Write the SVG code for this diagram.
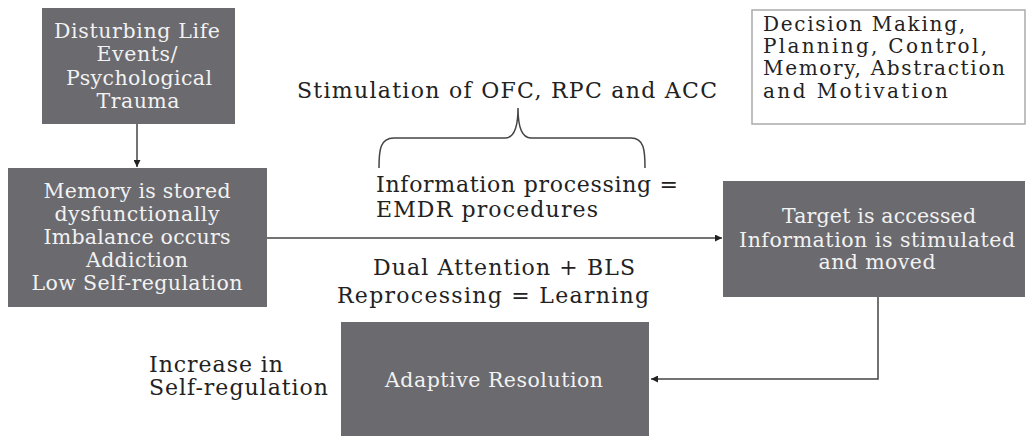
<svg xmlns="http://www.w3.org/2000/svg" width="1026" height="436" viewBox="0 0 1026 436">
  <defs>
    <marker id="arrow" viewBox="0 0 10 10" refX="10" refY="5" markerWidth="7" markerHeight="7" markerUnits="userSpaceOnUse" orient="auto">
      <path d="M0,0 L10,5 L0,10 z" fill="#222"/>
    </marker>
    <style>
      text { font-family: "DejaVu Serif", "Liberation Serif", serif; font-size: 22px; }
      .box { fill: #6b6a6f; }
      .inbox { fill: #f2f2f2; text-anchor: middle; font-size: 20.5px; }
      .label { fill: #222; }
      .note { font-size: 20px; }
      .mid { text-anchor: middle; }
      .conn { fill: none; stroke: #444; stroke-width: 1.5; }
      .outline { fill: #fff; stroke: #aaa; stroke-width: 1.5; }
    </style>
  </defs>

  <rect width="1026" height="436" fill="#fff"/>

  <!-- connectors -->
  <g id="connectors">
    <line class="conn" x1="137" y1="124" x2="137" y2="167" marker-end="url(#arrow)"/>
    <line class="conn" x1="267" y1="238" x2="722" y2="238" marker-end="url(#arrow)"/>
    <polyline class="conn" points="878,297 878,379 651,379" marker-end="url(#arrow)"/>
    <!-- curly brace under the stimulation label -->
    <path class="conn" d="M379,168 C379,150 380,138 394,138 L505,138 C514,138 518,128 518,108 C518,128 522,138 531,138 L631,138 C644,138 645,150 645,168"/>
  </g>

  <g id="trauma">
    <rect class="box" x="42" y="8" width="193" height="116"/>
    <text class="inbox" x="137" y="38" textLength="166">Disturbing Life</text>
    <text class="inbox" x="137" y="61" textLength="81">Events/</text>
    <text class="inbox" x="139" y="85" textLength="146">Psychological</text>
    <text class="inbox" x="138" y="108" textLength="83">Trauma</text>
  </g>

  <g id="memory">
    <rect class="box" x="8" y="168" width="259" height="139"/>
    <text class="inbox" x="137" y="198" textLength="187">Memory is stored</text>
    <text class="inbox" x="137" y="221" textLength="165">dysfunctionally</text>
    <text class="inbox" x="137" y="244" textLength="187">Imbalance occurs</text>
    <text class="inbox" x="137" y="267" textLength="102">Addiction</text>
    <text class="inbox" x="137" y="290" textLength="211">Low Self-regulation</text>
  </g>

  <g id="stimulation">
    <text class="label" x="297" y="98" textLength="420">Stimulation of OFC, RPC and ACC</text>
  </g>

  <g id="functions">
    <rect class="outline" x="752" y="10" width="273" height="114"/>
    <text class="label note" x="763" y="31" textLength="202">Decision Making,</text>
    <text class="label note" x="763" y="53" textLength="224">Planning, Control,</text>
    <text class="label note" x="763" y="75" textLength="242">Memory, Abstraction</text>
    <text class="label note" x="763" y="98" textLength="185">and Motivation</text>
  </g>

  <g id="processing">
    <text class="label" x="376" y="192" textLength="302">Information processing =</text>
    <text class="label" x="376" y="217" textLength="222">EMDR procedures</text>
  </g>

  <g id="target">
    <rect class="box" x="723" y="181" width="302" height="116"/>
    <text class="inbox" x="879" y="223" textLength="194">Target is accessed</text>
    <text class="inbox" x="877" y="247" textLength="276">Information is stimulated</text>
    <text class="inbox" x="877" y="269" textLength="117">and moved</text>
  </g>

  <g id="reprocessing">
    <text class="label mid" x="504" y="275" textLength="262">Dual Attention + BLS</text>
    <text class="label mid" x="493" y="303" textLength="312">Reprocessing = Learning</text>
  </g>

  <g id="resolution">
    <rect class="box" x="341" y="322" width="308" height="114"/>
    <text class="inbox" x="494" y="387" textLength="218">Adaptive Resolution</text>
  </g>

  <g id="self-regulation">
    <text class="label" x="149" y="372" textLength="134">Increase in</text>
    <text class="label" x="149" y="395" textLength="179">Self-regulation</text>
  </g>
</svg>
